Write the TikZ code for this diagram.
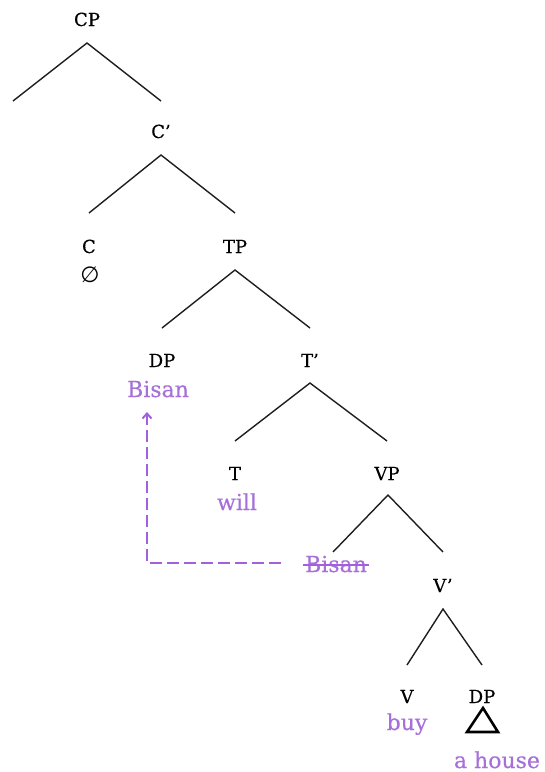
\documentclass[tikz,border=0pt]{standalone}
\usepackage{fontspec}
\setmainfont{DejaVu Serif}[FakeBold=0.4]
\newfontfamily\symfont{DejaVu Sans}
\usetikzlibrary{arrows.meta}
\definecolor{gloss}{RGB}{166,112,216}
\definecolor{movecol}{RGB}{162,96,220}
\definecolor{branchcol}{RGB}{30,30,30}
\newcommand{\primemark}{\char"0027\relax}
\begin{document}
\begin{tikzpicture}[x=1pt,y={(0pt,-1pt)},
  cat/.style={anchor=base,inner sep=0pt,font=\fontsize{18}{18}\selectfont,text=black},
  word/.style={anchor=base,inner sep=0pt,font=\fontsize{22}{22}\selectfont,text=gloss},
  branch/.style={draw=branchcol,line width=1.4pt},
  movement/.style={draw=movecol,line width=2.8pt,dash pattern=on 12pt off 5pt},
]
\useasboundingbox (0,0) rectangle (545,772);

% category labels (placed on their baselines)
\node[cat] (cp)   at (87,26)   {CP};
\node[cat] (cbar) at (161,138) {C\primemark};
\node[cat] (c)    at (89,253)  {C};
\node[cat] (tp)   at (235,253) {TP};
\node[cat] (dp)   at (162,367) {DP};
\node[cat] (tbar) at (310,367) {T\primemark};
\node[cat] (t)    at (235,480) {T};
\node[cat] (vp)   at (387,480) {VP};
\node[cat] (vbar) at (443,592) {V\primemark};
\node[cat] (v)    at (407,703) {V};
\node[cat] (obj)  at (482,703) {DP};

% null complementizer
\node[anchor=base,inner sep=0pt,font=\symfont\fontsize{22}{22}\selectfont] (null) at (90,282) {∅};

% lexical material
\node[word] (bisan) at (158,397) {Bisan};
\node[word] (will)  at (237,510) {will};
\node[word] (trace) at (336,572) {Bisan};
\node[word] (buy)   at (407,730) {buy};
\node[word] (house) at (497,768) {a house};

% strike through the lower copy
\draw[movecol,line width=1.8pt] ([xshift=-2pt,yshift=7pt]trace.base west) -- ([xshift=2pt,yshift=7pt]trace.base east);

% empty left branch under CP
\coordinate (cpleft) at (13,101);

% branches
\draw[branch] (cpleft) -- ([yshift=-17pt]cp.base) -- ([yshift=37pt]cbar.base);
\draw[branch] ([yshift=40pt]c.base) -- ([yshift=-17pt]cbar.base) -- ([yshift=40pt]tp.base);
\draw[branch] ([yshift=39pt]dp.base) -- ([yshift=-17pt]tp.base) -- ([yshift=39pt]tbar.base);
\draw[branch] ([yshift=39pt]t.base) -- ([yshift=-16pt]tbar.base) -- ([yshift=39pt]vp.base);
\draw[branch] ([xshift=-3pt,yshift=20pt]trace.base) -- ([xshift=1pt,yshift=-15pt]vp.base) -- ([yshift=40pt]vbar.base);
\draw[branch] ([yshift=38pt]v.base) -- ([yshift=-17pt]vbar.base) -- ([yshift=38pt]obj.base);

% triangle over the object DP
\draw[line width=2.6pt,line join=miter] ([xshift=1pt,yshift=-5pt]obj.base) -- ([xshift=-15pt,yshift=-29pt]obj.base) -- ([xshift=16pt,yshift=-29pt]obj.base) -- cycle;

% movement arrow from the lower copy up to Spec,TP
\coordinate (tip) at (147,412);
\draw[movement,-{Straight Barb[length=5pt,width=9pt,line width=2pt]}]
  ([xshift=-24pt,yshift=9pt]trace.base west) -| (tip);
\end{tikzpicture}
\end{document}
